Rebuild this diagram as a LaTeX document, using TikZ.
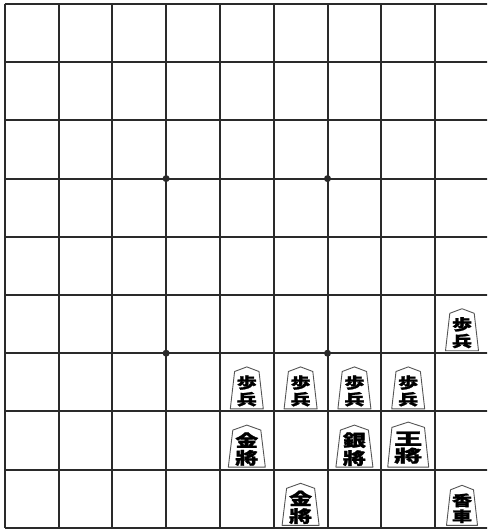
\documentclass[tikz,border=0pt]{standalone}
\usepackage{fontspec}
\usepackage{graphicx}
\newfontfamily\cjk[BoldFeatures={FakeBold=1.4}]{Noto Sans CJK JP}
\definecolor{linegray}{HTML}{2A2A2A}
\definecolor{edgegray}{HTML}{555555}
\newcommand\kspec[6]{\def\khb{#1}\def\khs{#2}\def\kh{#3}\def\ksd{#4}\def\kfs{#5}\def\kys{#6}}
\newcommand\koma[5]{%
  \pgfmathsetmacro\kx{4.7+53.8*(#2+0.5)}%
  \pgfmathsetmacro\ky{4+58.2*(#3+1)-2.5}%
  \draw[komaedge] (\kx-\khb,\ky) -- (\kx+\khb,\ky) -- (\kx+\khs,\ky-\kh+\ksd) -- (\kx,\ky-\kh) -- (\kx-\khs,\ky-\kh+\ksd) -- cycle;
  \node[komatext] (#1) at (\kx,\ky-\kh/2+3) {\cjk\bfseries\fontsize{\kfs}{\kfs}\selectfont\scalebox{1}[\kys]{\shortstack{#4\\#5}}};
}
\begin{document}
\begin{tikzpicture}[x=1pt,y=-1pt,
  gridline/.style={draw=linegray, line width=2pt},
  komaedge/.style={draw=edgegray, line width=0.9pt, fill=white, line join=round},
  komatext/.style={inner sep=0pt, text=black}]
\useasboundingbox (0,0) rectangle (487,529);
\clip (0,0) rectangle (487,529);
\fill[white] (0,0) rectangle (487,529);
\foreach \i in {0,...,9} {
  \draw[gridline] (4.7+53.8*\i,4) -- (4.7+53.8*\i,527.8);
  \draw[gridline] (4.7,4+58.2*\i) -- (489,4+58.2*\i);
}
\foreach \dx/\dy in {166.1/178.6, 327.5/178.6, 166.1/353.2, 327.5/353.2}
  \fill[linegray] (\dx,\dy) circle (3.5);
% pawns
\kspec{16.5}{12.2}{42}{4.6}{20}{0.75}
\koma{p1}{8}{5}{歩}{兵}
\koma{p2}{4}{6}{歩}{兵}
\koma{p3}{5}{6}{歩}{兵}
\koma{p4}{6}{6}{歩}{兵}
\koma{p5}{7}{6}{歩}{兵}
% gold & silver
\kspec{18.5}{14}{42}{5}{23}{0.72}
\koma{g1}{4}{7}{金}{將}
\koma{s1}{6}{7}{銀}{將}
\koma{g2}{5}{8}{金}{將}
% king
\kspec{20.5}{16.3}{45}{5.3}{28}{0.6}
\koma{k1}{7}{7}{王}{將}
% lance
\kspec{15.5}{11.5}{40}{4.5}{20}{0.72}
\koma{l1}{8}{8}{香}{車}
\end{tikzpicture}
\end{document}
